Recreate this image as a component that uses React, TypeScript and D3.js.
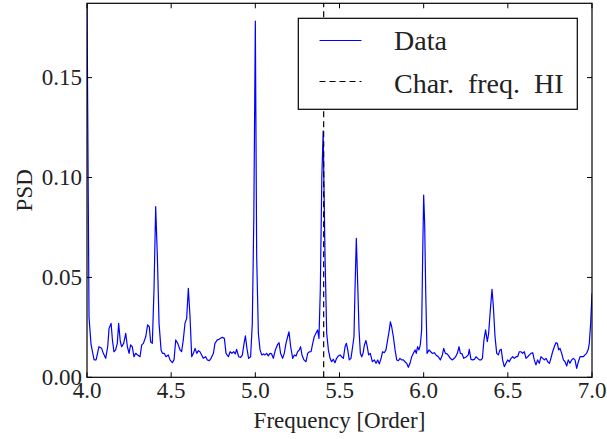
import React from "react";
import * as d3 from "d3";

const freq: number[] = [
  4.000, 4.012, 4.024, 4.042, 4.054, 4.071, 4.087, 4.097, 4.111, 4.123, 4.131, 4.143, 4.151, 4.160, 4.170, 4.180,
  4.188, 4.198, 4.206, 4.218, 4.230, 4.240, 4.250, 4.259, 4.269, 4.279, 4.289, 4.301, 4.315, 4.325, 4.335, 4.349,
  4.360, 4.370, 4.378, 4.388, 4.398, 4.408, 4.418, 4.428, 4.440, 4.448, 4.459, 4.469, 4.483, 4.493, 4.507, 4.517,
  4.527, 4.539, 4.553, 4.562, 4.572, 4.582, 4.592, 4.602, 4.612, 4.622, 4.632, 4.642, 4.652, 4.661, 4.671, 4.681,
  4.691, 4.705, 4.715, 4.727, 4.737, 4.751,
  4.760, 4.774, 4.784, 4.794, 4.804, 4.816, 4.826, 4.840, 4.850, 4.861, 4.871, 4.881, 4.889, 4.901, 4.913, 4.923,
  4.933, 4.941, 4.950, 4.960, 4.972, 4.982, 4.991, 5.000, 5.008, 5.018, 5.028, 5.038, 5.048, 5.057, 5.067, 5.077,
  5.087, 5.097, 5.107, 5.119, 5.131, 5.141, 5.150, 5.162, 5.172, 5.182, 5.192, 5.200, 5.210, 5.222, 5.232, 5.242,
  5.251, 5.261, 5.269, 5.277, 5.289, 5.301, 5.311, 5.321, 5.331, 5.341, 5.350, 5.360, 5.370, 5.378, 5.386, 5.395,
  5.403, 5.414, 5.424, 5.434, 5.444, 5.453, 5.463, 5.473, 5.483,
  5.493, 5.503, 5.513, 5.523, 5.533, 5.541, 5.549, 5.558, 5.568, 5.578, 5.586, 5.592, 5.600, 5.608, 5.616, 5.624,
  5.632, 5.640, 5.648, 5.657, 5.665, 5.673, 5.683, 5.695, 5.707, 5.717, 5.727, 5.737, 5.747, 5.756, 5.766, 5.776,
  5.786, 5.796, 5.802, 5.810, 5.820, 5.830, 5.840, 5.850, 5.859, 5.869, 5.879, 5.889, 5.899, 5.909, 5.919, 5.929,
  5.939, 5.949, 5.956, 5.964, 5.972, 5.980, 5.988, 5.994, 6.000, 6.006, 6.012, 6.020, 6.032, 6.042, 6.051, 6.063,
  6.073, 6.087, 6.099, 6.111, 6.119, 6.129, 6.139, 6.149, 6.158, 6.170, 6.182, 6.190, 6.200, 6.210, 6.218, 6.228,
  6.238, 6.250,
  6.265, 6.271, 6.281, 6.291, 6.301, 6.311, 6.321, 6.331, 6.341, 6.349, 6.358, 6.368, 6.378, 6.386, 6.396, 6.406,
  6.414, 6.424, 6.434, 6.444, 6.453, 6.461, 6.469, 6.479, 6.489, 6.499, 6.509, 6.519, 6.529, 6.539, 6.549, 6.558,
  6.568, 6.578, 6.588, 6.598, 6.608, 6.618, 6.628, 6.638, 6.648, 6.657, 6.667, 6.677, 6.687, 6.697, 6.707, 6.717,
  6.727, 6.737, 6.747, 6.756, 6.766, 6.776, 6.786, 6.794, 6.802, 6.810, 6.820, 6.830, 6.840, 6.850, 6.859, 6.869,
  6.879, 6.889, 6.899, 6.909, 6.919, 6.929, 6.939, 6.949, 6.958, 6.968, 6.978, 6.984, 6.992, 7.000,
];

const psd: number[] = [
  0.1900, 0.0300, 0.0165, 0.0087, 0.0087, 0.0153, 0.0145, 0.0120, 0.0095, 0.0153, 0.0245, 0.0270, 0.0187, 0.0128, 0.0137, 0.0170,
  0.0270, 0.0178, 0.0153, 0.0170, 0.0220, 0.0153, 0.0120, 0.0162, 0.0153, 0.0103, 0.0120, 0.0112, 0.0103, 0.0162, 0.0170, 0.0203,
  0.0262, 0.0253, 0.0178, 0.0170, 0.0437, 0.0854, 0.0604, 0.0270, 0.0137, 0.0120, 0.0120, 0.0103, 0.0112, 0.0087, 0.0073, 0.0087,
  0.0187, 0.0170, 0.0137, 0.0128, 0.0187, 0.0270, 0.0295, 0.0445, 0.0304, 0.0103, 0.0120, 0.0145, 0.0120, 0.0133, 0.0128, 0.0112,
  0.0095, 0.0103, 0.0087, 0.0083, 0.0095, 0.0120,
  0.0170, 0.0187, 0.0190, 0.0195, 0.0200, 0.0195, 0.0120, 0.0103, 0.0128, 0.0120, 0.0128, 0.0117, 0.0140, 0.0103, 0.0100, 0.0112,
  0.0170, 0.0207, 0.0145, 0.0095, 0.0103, 0.0270, 0.0800, 0.1783, 0.0604, 0.0220, 0.0137, 0.0112, 0.0117, 0.0112, 0.0120, 0.0107,
  0.0120, 0.0117, 0.0095, 0.0137, 0.0162, 0.0173, 0.0120, 0.0095, 0.0120, 0.0170, 0.0203, 0.0228, 0.0153, 0.0095, 0.0112, 0.0107,
  0.0128, 0.0137, 0.0153, 0.0112, 0.0087, 0.0078, 0.0120, 0.0128, 0.0128, 0.0170, 0.0203, 0.0220, 0.0237, 0.0195, 0.0437, 0.1000,
  0.1233, 0.0604, 0.0220, 0.0137, 0.0095, 0.0078, 0.0090, 0.0073, 0.0095,
  0.0107, 0.0112, 0.0103, 0.0095, 0.0153, 0.0170, 0.0137, 0.0087, 0.0095, 0.0153, 0.0203, 0.0437, 0.0696, 0.0470, 0.0237, 0.0120,
  0.0103, 0.0120, 0.0162, 0.0184, 0.0153, 0.0112, 0.0120, 0.0078, 0.0087, 0.0070, 0.0087, 0.0067, 0.0095, 0.0128, 0.0123, 0.0137,
  0.0187, 0.0237, 0.0278, 0.0253, 0.0203, 0.0137, 0.0087, 0.0083, 0.0095, 0.0087, 0.0087, 0.0078, 0.0070, 0.0050, 0.0070, 0.0103,
  0.0120, 0.0137, 0.0120, 0.0153, 0.0137, 0.0162, 0.0237, 0.0604, 0.0912, 0.0770, 0.0437, 0.0120, 0.0137, 0.0128, 0.0120, 0.0123,
  0.0112, 0.0103, 0.0087, 0.0112, 0.0145, 0.0120, 0.0117, 0.0107, 0.0095, 0.0087, 0.0095, 0.0103, 0.0120, 0.0153, 0.0120, 0.0117,
  0.0095, 0.0100,
  0.0112, 0.0140, 0.0090, 0.0087, 0.0090, 0.0103, 0.0095, 0.0087, 0.0087, 0.0095, 0.0187, 0.0237, 0.0178, 0.0220, 0.0337, 0.0440,
  0.0354, 0.0203, 0.0120, 0.0112, 0.0137, 0.0140, 0.0087, 0.0053, 0.0070, 0.0087, 0.0078, 0.0095, 0.0103, 0.0095, 0.0103, 0.0103,
  0.0128, 0.0128, 0.0120, 0.0128, 0.0095, 0.0103, 0.0112, 0.0120, 0.0123, 0.0087, 0.0062, 0.0087, 0.0070, 0.0103, 0.0095, 0.0087,
  0.0095, 0.0078, 0.0070, 0.0095, 0.0128, 0.0153, 0.0173, 0.0170, 0.0137, 0.0145, 0.0120, 0.0087, 0.0078, 0.0057, 0.0087, 0.0070,
  0.0087, 0.0095, 0.0087, 0.0045, 0.0078, 0.0103, 0.0103, 0.0103, 0.0112, 0.0120, 0.0140, 0.0170, 0.0270, 0.0420,
];

const charFreq = 5.406;
const xTicks: number[] = [4.0, 4.5, 5.0, 5.5, 6.0, 6.5, 7.0];
const yTicks: number[] = [0.0, 0.05, 0.1, 0.15];
const xDomain: [number, number] = [4.0, 7.0];
const yDomain: [number, number] = [0, 0.1872];
const legendLabels: string[] = ["Data", "Char. freq. HI"];
const xLabel = "Frequency [Order]";
const yLabel = "PSD";

const W = 607;
const H = 439;
const L = 87;
const R = 592;
const T = 3.3;
const B = 377.3;
const FONT = "'Liberation Serif', 'Times New Roman', serif";

export default function App() {
  const x = d3.scaleLinear().domain(xDomain).range([L, R]);
  const y = d3.scaleLinear().domain(yDomain).range([B, T]);
  const pts: [number, number][] = freq.map((f, i) => [f, psd[i]]);
  const line = d3
    .line<[number, number]>()
    .x((d) => x(d[0]))
    .y((d) => y(d[1]));
  const tickLen = 5;

  const lgX0 = 298.3;
  const lgY0 = 18.3;
  const lgX1 = 577.3;
  const lgY1 = 109.3;

  return (
    <svg
      width={W}
      height={H}
      style={{ position: "absolute", left: 0, top: 0, background: "#fff" }}
      fontFamily={FONT}
    >
      <rect x={0} y={0} width={W} height={H} fill="#fff" />
      <defs>
        <clipPath id="plotclip">
          <rect x={L} y={T} width={R - L} height={B - T} />
        </clipPath>
      </defs>
      <g clipPath="url(#plotclip)">
        <path d={line(pts) || ""} fill="none" stroke="#0000ff" strokeWidth={1.2} strokeLinejoin="round" />
        <line
          x1={x(charFreq)}
          x2={x(charFreq)}
          y1={B}
          y2={T}
          stroke="#000"
          strokeWidth={1.2}
          strokeDasharray="6,4"
        />
      </g>
      <rect x={L} y={T} width={R - L} height={B - T} fill="none" stroke="#000" strokeWidth={1.2} />
      {xTicks.map((t) => (
        <g key={"xt" + t}>
          <line x1={x(t)} x2={x(t)} y1={B} y2={B - tickLen} stroke="#000" strokeWidth={1} />
          <line x1={x(t)} x2={x(t)} y1={T} y2={T + tickLen} stroke="#000" strokeWidth={1} />
          <text x={x(t)} y={398} fontSize={23} textAnchor="middle" fill="#222">
            {d3.format(".1f")(t)}
          </text>
        </g>
      ))}
      {yTicks.map((t) => (
        <g key={"yt" + t}>
          <line x1={L} x2={L + tickLen} y1={y(t)} y2={y(t)} stroke="#000" strokeWidth={1} />
          <line x1={R} x2={R - tickLen} y1={y(t)} y2={y(t)} stroke="#000" strokeWidth={1} />
          <text x={82} y={y(t) + 7.5} fontSize={23} textAnchor="end" fill="#222">
            {d3.format(".2f")(t)}
          </text>
        </g>
      ))}
      <text x={(L + R) / 2} y={428} fontSize={23} textAnchor="middle" fill="#222">
        {xLabel}
      </text>
      <text
        transform={`translate(31.5, ${(T + B) / 2}) rotate(-90)`}
        fontSize={23}
        textAnchor="middle"
        fill="#222"
      >
        {yLabel}
      </text>
      <rect x={lgX0} y={lgY0} width={lgX1 - lgX0} height={lgY1 - lgY0} fill="#fff" stroke="#000" strokeWidth={1.2} />
      <line x1={319.5} x2={361.5} y1={40.5} y2={40.5} stroke="#0000ff" strokeWidth={1.2} />
      <text x={394} y={49.5} fontSize={28} fill="#222">
        {legendLabels[0]}
      </text>
      <line x1={319.5} x2={361.5} y1={81.5} y2={81.5} stroke="#000" strokeWidth={1.2} strokeDasharray="6,4" />
      <text x={394} y={92.7} fontSize={28} fill="#222" style={{ wordSpacing: "7px" }}>
        {legendLabels[1]}
      </text>
    </svg>
  );
}
